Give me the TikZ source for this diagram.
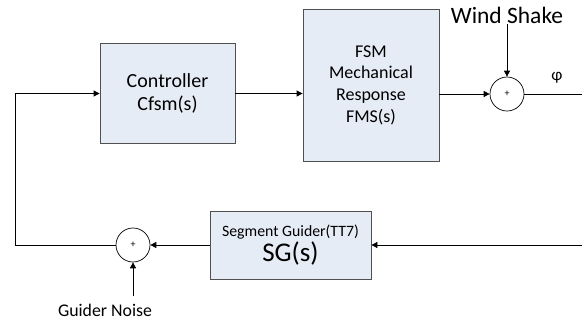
\documentclass[tikz,border=0pt]{standalone}
\usepackage{fontspec}
\setmainfont{Carlito}
\usepackage{tikz}
\usetikzlibrary{arrows.meta}
\definecolor{blockfill}{RGB}{230,236,246}
\definecolor{blockline}{RGB}{80,80,80}

\begin{document}
\begin{tikzpicture}[x=1pt,y=-1pt,
				block/.style={rectangle,draw=blockline,fill=blockfill,line width=0.8pt,align=center,inner sep=0pt},
				sumnode/.style={circle,draw,line width=0.7pt,minimum size=34pt,inner sep=0pt,font=\fontsize{10}{12}\selectfont},
				sig/.style={line width=0.8pt,-{Triangle[length=6pt,width=6pt]}}]
				
				\useasboundingbox (0,0) rectangle (582,322);
				
				% Forward path
				\node[block,minimum width=135pt,minimum height=100pt,font=\fontsize{20}{23}\selectfont]
				(ctrl) at (167.5,93.5) {Controller\\Cfsm(s)};
				\node[block,minimum width=136pt,minimum height=152pt,font=\fontsize{18}{21.7}\selectfont]
				(fsm) at (371,85) {FSM\\Mechanical\\Response\\FMS(s)};
				\node[sumnode] (sum1) at (507,94) {+};
				\node[inner sep=1pt,font=\fontsize{23.5}{26}\selectfont] (wind) at (507,15) {Wind Shake};
				\node[font=\fontsize{17}{20}\selectfont] (phi) at (557,78) {φ};
				\coordinate (out) at (582,94);
				
				% Feedback path
				\coordinate (fbin) at (582,245);
				\node[block,minimum width=161pt,minimum height=68pt]
				(sg) at (290.5,245) {\fontsize{15.8}{18}\selectfont Segment Guider(TT7)\\[1pt]\fontsize{27}{28}\selectfont SG(s)};
				\node[sumnode] (sum2) at (133,245) {+};
				\coordinate (noise) at (133,296);
				\node[font=\fontsize{17.8}{20}\selectfont] (noiselbl) at (105,310) {Guider Noise};
				\coordinate (corner) at (15,245);
				
				% Connections
				\draw[sig] (ctrl) -- (fsm.west |- ctrl.east);
				\draw[sig] (fsm.east |- sum1) -- (sum1);
				\draw[sig] (wind) -- (sum1);
				\draw[line width=0.8pt] (sum1) -- (out);
				\draw[sig] (fbin) -- (sg);
				\draw[sig] (sg) -- (sum2);
				\draw[sig] (noise) -- (sum2);
				\draw[sig] (sum2) -- (corner) |- (ctrl);
			\end{tikzpicture}
\end{document}
